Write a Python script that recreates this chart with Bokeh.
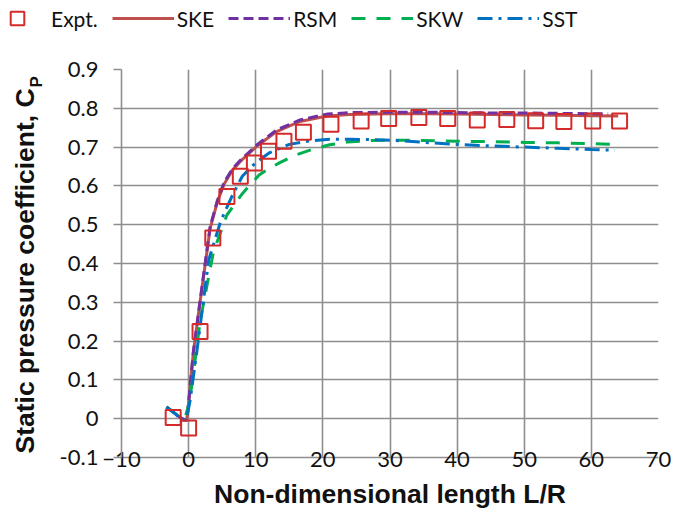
from bokeh.plotting import figure
from bokeh.layouts import column, row
from bokeh.models import Range1d, FixedTicker, Legend, LegendItem, Label
from bokeh.embed import file_html
from bokeh.resources import INLINE

# Measured static pressure coefficient along the pipe
expt_x = [-2.3, 0.0, 1.7, 3.6, 5.7, 7.7, 9.8, 11.9, 14.2, 17.1, 21.2, 25.7, 29.8, 34.3, 38.6, 43.0, 47.4, 51.7, 55.9, 60.2, 64.2]
expt_y = [0.003, -0.024, 0.225, 0.466, 0.573, 0.625, 0.659, 0.689, 0.715, 0.738, 0.759, 0.767, 0.774, 0.776, 0.774, 0.770, 0.771, 0.768, 0.766, 0.767, 0.767]

# Standard k-epsilon prediction
ske_x = [-3.3, -2.0, -1.0, -0.3, 0.0, 0.7, 1.7, 3.2, 4.3, 5.3, 6.5, 7.7, 10.2, 13.1, 16.6, 20.6, 24.0, 30.0, 35.0, 40.0, 45.0, 50.0, 55.0, 60.0, 64.0]
ske_y = [0.030, 0.013, 0.000, -0.005, 0.040, 0.170, 0.300, 0.490, 0.560, 0.605, 0.640, 0.663, 0.703, 0.740, 0.766, 0.780, 0.784, 0.786, 0.786, 0.785, 0.784, 0.783, 0.782, 0.781, 0.780]

# Reynolds stress model prediction
rsm_x = [-3.3, -2.0, -1.0, -0.3, 0.0, 0.7, 1.7, 3.2, 4.3, 5.3, 6.5, 7.7, 10.2, 13.1, 16.6, 20.6, 24.0, 30.0, 35.0, 40.0, 45.0, 50.0, 55.0, 60.0, 62.5]
rsm_y = [0.030, 0.013, 0.000, -0.005, 0.042, 0.172, 0.303, 0.495, 0.563, 0.610, 0.643, 0.666, 0.706, 0.744, 0.770, 0.785, 0.789, 0.790, 0.790, 0.789, 0.788, 0.788, 0.787, 0.786, 0.786]

# Standard k-omega prediction
skw_x = [-3.3, -2.0, -1.0, -0.5, 0.0, 0.5, 1.7, 3.7, 5.7, 8.0, 9.0, 10.5, 12.0, 13.6, 16.0, 18.6, 21.0, 23.6, 27.0, 30.0, 35.0, 40.0, 45.0, 50.0, 55.0, 60.0, 64.0]
skw_y = [0.030, 0.013, 0.000, 0.005, 0.035, 0.088, 0.250, 0.430, 0.525, 0.580, 0.600, 0.628, 0.645, 0.660, 0.680, 0.695, 0.706, 0.713, 0.717, 0.718, 0.717, 0.715, 0.714, 0.712, 0.711, 0.709, 0.707]

# SST k-omega prediction
sst_x = [-3.3, -2.0, -1.0, -0.3, 0.2, 1.2, 3.0, 4.8, 6.5, 8.0, 10.0, 12.0, 15.0, 18.0, 21.0, 24.0, 28.0, 32.0, 36.0, 40.0, 45.0, 50.0, 55.0, 60.0, 63.5]
sst_y = [0.030, 0.013, -0.005, 0.000, 0.045, 0.170, 0.410, 0.510, 0.575, 0.625, 0.660, 0.685, 0.707, 0.716, 0.720, 0.720, 0.719, 0.716, 0.711, 0.707, 0.703, 0.700, 0.697, 0.694, 0.692]

x_ticks = [-10, 0, 10, 20, 30, 40, 50, 60, 70]
y_ticks = [-0.1, 0.0, 0.1, 0.2, 0.3, 0.4, 0.5, 0.6, 0.7, 0.8, 0.9]
y_tick_labels = ["-0.1", "0", "0.1", "0.2", "0.3", "0.4", "0.5", "0.6", "0.7", "0.8", "0.9"]

series_names = ["Expt.", "SKE", "RSM", "SKW", "SST"]

GRID = "#8e8e8e"
TICK_FONT = "Lato"
TITLE_FONT = "Liberation Sans"
TEXT = "#111111"

EXPT_STYLE = dict(marker="square", size=15, fill_color=None, line_color="#d42a2a", line_width=2)
SKE_STYLE = dict(line_color="#c0504d", line_width=3)
RSM_STYLE = dict(line_color="#7030a0", line_width=3, line_dash="10 5")
SKW_STYLE = dict(line_color="#00b050", line_width=3, line_dash="14 11")
SST_STYLE = dict(line_color="#0070c0", line_width=3, line_dash="15 6 3 6")

LEG_H = 40     # height of the legend strip
TITLE_W = 50   # width of the strip holding the vertical axis title
MAIN_W = 683 - TITLE_W
MAIN_H = 522 - LEG_H
BORDER_TOP, BORDER_BOTTOM = 29, 65


def bare_figure(w, h, x_range, y_range):
    f = figure(width=w, height=h, x_range=x_range, y_range=y_range,
               x_axis_type=None, y_axis_type=None,
               output_backend="svg", toolbar_location=None,
               min_border=0)
    f.outline_line_color = None
    f.xgrid.visible = False
    f.ygrid.visible = False
    return f


# ---- main plot ----
p = figure(width=MAIN_W, height=MAIN_H,
           x_range=Range1d(-10, 70), y_range=Range1d(-0.1, 0.9),
           output_backend="svg", toolbar_location=None,
           min_border_left=71, min_border_right=25,
           min_border_top=BORDER_TOP, min_border_bottom=BORDER_BOTTOM)
p.outline_line_color = None

p.xgrid.ticker = FixedTicker(ticks=x_ticks)
p.ygrid.ticker = FixedTicker(ticks=y_ticks)
for g in (p.xgrid, p.ygrid):
    g.grid_line_color = GRID
    g.grid_line_width = 1.6

xa = p.xaxis[0]
xa.ticker = FixedTicker(ticks=x_ticks)
xa.major_tick_out = 0
xa.major_tick_in = 0
xa.minor_tick_line_color = None
xa.axis_line_color = GRID
xa.axis_line_width = 1.6
xa.major_label_standoff = -6
xa.major_label_text_font = TICK_FONT
xa.major_label_text_font_size = "22px"
xa.major_label_text_color = TEXT
xa.axis_label = "Non-dimensional length L/R"
xa.axis_label_text_font = TITLE_FONT
xa.axis_label_text_font_style = "bold"
xa.axis_label_text_font_size = "26.5px"
xa.axis_label_text_color = TEXT
xa.axis_label_standoff = 9

ya = p.yaxis[0]
ya.ticker = FixedTicker(ticks=y_ticks)
ya.major_label_overrides = dict(zip(y_ticks, y_tick_labels))
ya.major_tick_out = 8
ya.major_tick_in = 0
ya.major_tick_line_color = GRID
ya.major_tick_line_width = 1.6
ya.minor_tick_line_color = None
ya.axis_line_color = GRID
ya.axis_line_width = 1.6
ya.major_label_standoff = 15
ya.major_label_text_font = TICK_FONT
ya.major_label_text_font_size = "22px"
ya.major_label_text_color = TEXT

p.line(ske_x, ske_y, **SKE_STYLE)
p.line(rsm_x, rsm_y, **RSM_STYLE)
p.line(skw_x, skw_y, **SKW_STYLE)
p.line(sst_x, sst_y, **SST_STYLE)
p.scatter(expt_x, expt_y, **EXPT_STYLE)

# ---- legend strip ----
# The series are repeated here only so the legend can sample their styles;
# the strip's ranges lie outside the data, so nothing but the legend shows.
leg_fig = bare_figure(683, LEG_H, Range1d(1000, 1683), Range1d(1000, 1040))
k_expt = leg_fig.scatter(expt_x, expt_y, **EXPT_STYLE)
k_ske = leg_fig.line(ske_x, ske_y, **SKE_STYLE)
k_rsm = leg_fig.line(rsm_x, rsm_y, **RSM_STYLE)
k_skw = leg_fig.line(skw_x, skw_y, **SKW_STYLE)
k_sst = leg_fig.line(sst_x, sst_y, **SST_STYLE)
legend = Legend(items=[LegendItem(label=n, renderers=[r]) for n, r in
                       zip(series_names, [k_expt, k_ske, k_rsm, k_skw, k_sst])],
                location=(-14, 5), orientation="horizontal",
                glyph_width=62, glyph_height=34, label_standoff=3,
                spacing=14, padding=0, margin=0, border_line_color=None,
                background_fill_alpha=0,
                label_text_font=TICK_FONT, label_text_font_size="21px",
                label_text_color=TEXT)
leg_fig.add_layout(legend)

# ---- vertical axis title strip ----
# Its frame is aligned with the main plot's frame by the row, so the y range
# is expressed in page pixels (top = 69, bottom = 457, growing downwards).
frame_top = LEG_H + BORDER_TOP
frame_bottom = LEG_H + MAIN_H - BORDER_BOTTOM
ttl_fig = bare_figure(TITLE_W, MAIN_H, Range1d(0, TITLE_W),
                      Range1d(frame_bottom, frame_top))
ttl_fig.add_layout(Label(x=24, y=453,
                         text="Static pressure coefficient, C", angle=90, angle_units="deg",
                         text_align="left", text_baseline="middle",
                         text_font=TITLE_FONT, text_font_style="bold",
                         text_font_size="26.5px", text_color=TEXT))
ttl_fig.add_layout(Label(x=36, y=87,
                         text="P", angle=90, angle_units="deg",
                         text_align="left", text_baseline="middle",
                         text_font=TITLE_FONT, text_font_style="bold",
                         text_font_size="17px", text_color=TEXT))

layout = column(leg_fig, row(ttl_fig, p, spacing=0), spacing=0)
open("out.html", "w").write(file_html(layout, INLINE))
